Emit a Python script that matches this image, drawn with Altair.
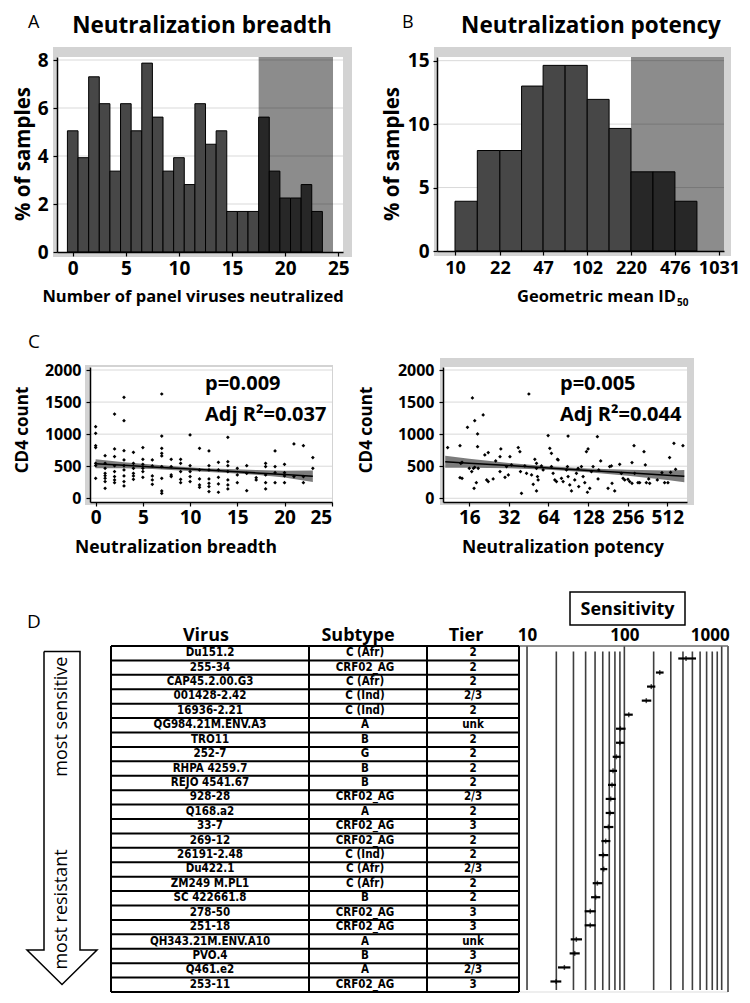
import altair as alt
import pandas as pd

FONT = "Open Sans"
TFONT = "DejaVu Sans Condensed, Liberation Sans Narrow, Liberation Sans, sans-serif"
FRAME = "#d3d3d3"
GRID = "#d9d9d9"
BAR = "#474747"

# ---------------- Panel A: neutralization breadth ----------------
a_count = list(range(24))
a_pct = [5.05, 3.93, 7.30, 6.18, 3.37, 6.18, 5.05, 7.87, 5.62, 3.37, 3.93, 2.81,
         6.18, 4.49, 5.05, 1.69, 1.69, 1.69, 5.62, 3.37, 2.25, 2.25, 2.81, 1.69]
a_xticks = [0, 5, 10, 15, 20, 25]
a_yticks = [0, 2, 4, 6, 8]
a_shade = [17.5, 24.5]

# ---------------- Panel B: neutralization potency ----------------
b_bin_lo = [10, 14.8, 22, 32.2, 47, 69.2, 102, 149.8, 220, 323.6, 476]
b_bin_hi = [14.8, 22, 32.2, 47, 69.2, 102, 149.8, 220, 323.6, 476, 700.5]
b_pct = [3.92, 7.92, 7.92, 13.0, 14.63, 14.63, 11.95, 9.66, 6.24, 6.24, 3.92]
b_xticks = [10, 22, 47, 102, 220, 476, 1031]
b_yticks = [0, 5, 10, 15]
b_shade_lo = 220

# ---------------- Panel C (left): CD4 vs breadth ----------------
c1_cd4_by_breadth = {
    0: [1117, 1013, 821, 790, 545, 510, 312],
    1: [665, 545, 467, 390, 353, 312, 260, 156],
    2: [1314, 769, 650, 509, 416, 338, 286, 244],
    3: [1574, 1210, 743, 597, 509, 442, 348, 260, 192],
    4: [717, 545, 467, 390, 348, 296],
    5: [790, 608, 530, 467, 416, 327],
    6: [597, 504, 348, 286, 218],
    7: [1626, 971, 779, 701, 660, 494, 312, 114, 78],
    8: [608, 494, 364, 338],
    9: [608, 545, 416, 296, 244],
    10: [987, 509, 416, 338, 260],
    11: [779, 442, 301, 208, 171],
    12: [738, 509, 442, 301, 234, 182, 104],
    13: [561, 442, 327, 223, 94],
    14: [951, 571, 509, 416, 286, 208, 145],
    15: [467, 364, 244],
    16: [509, 390, 119],
    17: [322, 286],
    18: [545, 494, 364, 244, 145],
    19: [738, 494, 400, 244],
    20: [530, 400, 348, 244],
    21: [847, 338],
    22: [821, 338, 244],
    23: [634, 467],
}
c1_fit_x = [0, 3, 6, 9, 11.5, 14, 17, 20, 23]
c1_fit = [540, 515, 489, 464, 443, 421, 396, 370, 345]
c1_lo = [470, 470, 455, 435, 415, 395, 365, 325, 255]
c1_hi = [610, 560, 525, 490, 470, 455, 440, 430, 435]

# ---------------- Panel C (right): CD4 vs potency ----------------
c2_potency = [10.96, 13.6, 13.8, 14.1, 13.6, 14.1, 15.5, 16.9, 17.6, 18.5, 18.5, 16.0, 16.7, 17.2,
              17.6, 18.7, 17.4, 18.1, 20.4, 21.0, 22.3, 21.7, 22.3, 24.3, 25.4, 27.8, 27.4, 27.4,
              29.9, 30.7, 32.6, 33.5, 31.7, 37.7, 38.8, 39.2, 39.9, 42.3, 43.6, 45.4, 47.6, 49.0,
              50.4, 51.9, 51.9, 51.9, 52.8, 53.4, 56.6, 58.3, 63.6, 65.5, 67.4, 67.4, 69.4, 71.5,
              73.6, 74.9, 75.8, 80.3, 82.7, 90.2, 87.7, 89.2, 90.2, 92.9, 95.7, 101.4, 104.4, 107.5,
              108.7, 113.9, 117.3, 120.8, 124.3, 128.0, 126.5, 131.8, 135.7, 139.7, 150.6, 152.4,
              154.2, 159.6, 181.5, 186.9, 192.4, 194.7, 203.9, 222.6, 229.2, 236.0, 242.9, 257.4,
              265.0, 276.1, 286.0, 276.1, 289.2, 306.6, 315.7, 340.6, 348.7, 354.8, 369.6, 376.3,
              429.9, 466.5, 488.7, 517.9, 533.2, 542.6, 575.2, 592.2, 673.3]
c2_cd4 = [790, 821, 545, 561, 322, 312, 1107, 1564, 1210, 1003, 805, 468, 416, 468,
          483, 468, 156, 244, 1299, 675, 712, 286, 260, 301, 582, 769, 649, 416,
          327, 494, 649, 520, 364, 790, 727, 416, 78, 504, 390, 1626, 364, 218,
          608, 545, 468, 114, 338, 286, 504, 442, 977, 779, 701, 494, 390, 286,
          260, 608, 597, 312, 260, 971, 442, 494, 338, 208, 114, 286, 390, 468,
          182, 494, 338, 244, 727, 769, 94, 156, 416, 494, 961, 301,
          442, 582, 156, 494, 504, 234, 114, 530, 390, 312, 286, 296,
          260, 234, 821, 556, 390, 244, 244, 727, 520, 244, 301, 234,
          286, 400, 244, 244, 634, 405, 857, 452, 821]
c2_fit_x = [10.5, 16, 32, 64, 128, 256, 512, 690]
c2_fit = [570, 547, 510, 472, 435, 398, 360, 345]
c2_lo = [475, 477, 470, 444, 405, 353, 285, 250]
c2_hi = [665, 617, 550, 500, 465, 443, 435, 440]
c_yticks = [0, 500, 1000, 1500, 2000]

# ---------------- Panel D: virus panel ----------------
viruses = ["Du151.2", "255-34", "CAP45.2.00.G3", "001428-2.42", "16936-2.21", "QG984.21M.ENV.A3",
           "TRO11", "252-7", "RHPA 4259.7", "REJO 4541.67", "928-28", "Q168.a2", "33-7", "269-12",
           "26191-2.48", "Du422.1", "ZM249 M.PL1", "SC 422661.8", "278-50", "251-18",
           "QH343.21M.ENV.A10", "PVO.4", "Q461.e2", "253-11"]
subtypes = ["C (Afr)", "CRF02_AG", "C (Afr)", "C (Ind)", "C (Ind)", "A", "B", "G", "B", "B",
            "CRF02_AG", "A", "CRF02_AG", "CRF02_AG", "C (Ind)", "C (Afr)", "C (Afr)", "B",
            "CRF02_AG", "CRF02_AG", "A", "B", "A", "CRF02_AG"]
tiers = ["2", "2", "2", "2/3", "2", "unk", "2", "2", "2", "2", "2/3", "2", "3", "2", "2", "2/3",
         "2", "2", "3", "3", "unk", "3", "2/3", "3"]
sens_mid = [430, 231, 189, 168, 111, 91, 90, 82.8, 76.5, 74.7, 72.4, 71.4, 68.5, 64.3, 60.9, 61.4,
            52.8, 50.7, 44.6, 44.6, 32.1, 30.9, 24.2, 19.9]
sens_lo = [358, 211, 171, 151, 100, 82, 82, 75.9, 70.1, 67.9, 64.3, 64.3, 61.4, 58.1, 54.5, 56.6,
           47.3, 45.5, 39.1, 39.1, 28.1, 27.4, 20.8, 17.4]
sens_hi = [545, 253, 208, 189, 122, 103, 100, 91.6, 84.1, 82, 81.4, 78.8, 77.1, 71.8, 68.5, 66.8,
           59.4, 56.6, 50.7, 50.7, 36.7, 34.8, 27.9, 22.5]
sens_grid_minor = [20, 30, 40, 50, 60, 70, 80, 90, 200, 300, 400, 500, 600, 700, 800, 900]
sens_grid_decade = [10, 100, 1000]


# ---------------- helpers ----------------
def txt(s, x, y, size, weight="bold", align="center", angle=0, baseline="alphabetic", font=FONT):
    return alt.Chart(pd.DataFrame({"t": [s]})).mark_text(
        font=font, fontSize=size, fontWeight=weight, align=align, baseline=baseline,
        angle=angle, color="black"
    ).encode(x=alt.value(x), y=alt.value(y), text="t:N")


def rect(x1, x2, y1, y2, fill, stroke=None, sw=1.0, opacity=1.0):
    kw = {"fill": fill, "opacity": opacity}
    if stroke:
        kw["stroke"] = stroke
        kw["strokeWidth"] = sw
    return alt.Chart(pd.DataFrame({"k": [0]})).mark_rect(**kw).encode(
        x=alt.value(x1), x2=alt.value(x2), y=alt.value(y1), y2=alt.value(y2))


def spacer():
    return rect(0, 1, 0, 1, "white").properties(width=1, height=1)


def axis(values, size, pad, orient=None, fmt="d"):
    kw = dict(values=values, grid=False, title=None, labelFont=FONT, labelFontSize=size,
              labelFontWeight="bold", labelColor="black", domainColor="black", domainWidth=1.5,
              tickColor="black", tickSize=4, tickWidth=1.2, labelPadding=pad, zindex=1,
              format=fmt)
    if orient:
        kw["orient"] = orient
    return alt.Axis(**kw)


# ---------------- Panel A ----------------
WA, HA = 286, 195
xA = alt.Scale(domain=[-1.48, 25.44], nice=False, zero=False)
yA = alt.Scale(domain=[0, 8.125], nice=False, zero=False)
axXA = axis(a_xticks, 19, 3)
axYA = axis(a_yticks, 19, 5)
dfA = pd.DataFrame({"n": a_count, "pct": a_pct})

A = alt.layer(
    rect(-48, 318, -49, 255, "white"),
    rect(-4, 295, -10, 200, FRAME),
    rect(0, WA, 0, HA, "white"),
    alt.Chart(pd.DataFrame({"g": a_yticks[1:]})).mark_rule(color=GRID, strokeWidth=1).encode(
        y=alt.Y("g:Q", scale=yA, axis=axYA)),
    alt.Chart(dfA).transform_calculate(lo="datum.n - 0.5", hi="datum.n + 0.5", base="0").mark_rect(
        fill=BAR, stroke="black", strokeWidth=1).encode(
        x=alt.X("lo:Q", scale=xA, axis=axXA), x2="hi:Q",
        y=alt.Y("pct:Q", scale=yA, axis=axYA), y2="base:Q"),
    alt.Chart(pd.DataFrame({"lo": [a_shade[0]], "hi": [a_shade[1]], "bot": [0], "top": [8.125]})).mark_rect(
        fill="black", opacity=0.45).encode(
        x=alt.X("lo:Q", scale=xA, axis=axXA), x2="hi:Q",
        y=alt.Y("bot:Q", scale=yA, axis=axYA), y2="top:Q"),
    txt("A", -29, -29, 18, weight="normal", align="left"),
    txt("Neutralization breadth", 145, -24, 22.5),
    txt("% of samples", -33, 97, 20.5, angle=270, baseline="middle"),
    txt("Number of panel viruses neutralized", 136, 245, 16.5),
).properties(width=WA, height=HA)

# ---------------- Panel B ----------------
WB, HB = 287, 194
xB = alt.Scale(type="log", domain=[7.29, 1127], nice=False)
yB = alt.Scale(domain=[0, 15.29], nice=False, zero=False)
axXB = axis(b_xticks, 18, 4)
axYB = axis(b_yticks, 19, 4)
dfB = pd.DataFrame({"lo": b_bin_lo, "hi": b_bin_hi, "pct": b_pct})

B = alt.layer(
    rect(-62, 303, -49, 255, "white"),
    rect(-3, 294, -10, 199, FRAME),
    rect(0, WB, 0, HB, "white"),
    alt.Chart(pd.DataFrame({"g": b_yticks[1:]})).mark_rule(color=GRID, strokeWidth=1).encode(
        y=alt.Y("g:Q", scale=yB, axis=axYB)),
    alt.Chart(dfB).transform_calculate(base="0").mark_rect(
        fill=BAR, stroke="black", strokeWidth=1).encode(
        x=alt.X("lo:Q", scale=xB, axis=axXB), x2="hi:Q",
        y=alt.Y("pct:Q", scale=yB, axis=axYB), y2="base:Q"),
    alt.Chart(pd.DataFrame({"lo": [b_shade_lo], "hi": [1127], "bot": [0], "top": [15.29]})).mark_rect(
        fill="black", opacity=0.45).encode(
        x=alt.X("lo:Q", scale=xB, axis=axXB), x2="hi:Q",
        y=alt.Y("bot:Q", scale=yB, axis=axYB), y2="top:Q"),
    txt("B", -35, -29, 18, weight="normal", align="left"),
    txt("Neutralization potency", 154, -24, 22.5),
    txt("% of samples", -44, 97, 20.5, angle=270, baseline="middle"),
    txt("Geometric mean ID", 239, 245, 16.5, align="right"),
    txt("50", 240, 249, 10, align="left"),
).properties(width=WB, height=HB)

# ---------------- Panel C ----------------
HC = 135
yC = alt.Scale(domain=[-58, 2047], nice=False, zero=False)
axYC = axis(c_yticks, 16, 5)

c1_x, c1_y = [], []
for k, vals in c1_cd4_by_breadth.items():
    for v in vals:
        c1_x.append(k)
        c1_y.append(v)
dfC1 = pd.DataFrame({"b": c1_x, "cd4": c1_y})
dfC1fit = pd.DataFrame({"b": c1_fit_x, "fit": c1_fit, "lo": c1_lo, "hi": c1_hi})

WC1 = 242
xC1 = alt.Scale(domain=[-0.6, 25.03], nice=False, zero=False)
axXC1 = axis([0, 5, 10, 15, 20, 25], 19, 2)

C1 = alt.layer(
    rect(-81, 266, -55, 203, "white"),
    rect(-5, 243, -2, 138, FRAME),
    rect(0, WC1, 0, HC, "white"),
    alt.Chart(pd.DataFrame({"g": c_yticks})).mark_rule(color=GRID, strokeWidth=1).encode(
        y=alt.Y("g:Q", scale=yC, axis=axYC)),
    alt.Chart(dfC1fit).mark_area(color="#6e6e6e", opacity=0.9).encode(
        x=alt.X("b:Q", scale=xC1, axis=axXC1), y=alt.Y("lo:Q", scale=yC, axis=axYC), y2="hi:Q"),
    alt.Chart(dfC1fit).mark_line(color="black", strokeWidth=1.5).encode(
        x=alt.X("b:Q", scale=xC1, axis=axXC1), y=alt.Y("fit:Q", scale=yC, axis=axYC)),
    alt.Chart(dfC1).mark_point(shape="diamond", filled=True, size=14, color="black", opacity=1).encode(
        x=alt.X("b:Q", scale=xC1, axis=axXC1), y=alt.Y("cd4:Q", scale=yC, axis=axYC)),
    txt("C", -62, -19, 19, weight="normal", align="left"),
    txt("CD4 count", -67, 63, 17, angle=270, baseline="middle"),
    txt("Neutralization breadth", 86, 186, 17.5),
    txt("p=0.009", 115, 23, 20, align="left"),
    txt("Adj R\u00b2=0.037", 115, 54, 20, align="left"),
).properties(width=WC1, height=HC)

WC2 = 244
xC2 = alt.Scale(type="log", domain=[10.1, 723], nice=False)
axXC2 = axis([16, 32, 64, 128, 256, 512], 19, 2)
dfC2 = pd.DataFrame({"p": c2_potency, "cd4": c2_cd4})
dfC2fit = pd.DataFrame({"p": c2_fit_x, "fit": c2_fit, "lo": c2_lo, "hi": c2_hi})

C2 = alt.layer(
    rect(-87, 297, -55, 203, "white"),
    rect(-3, 251, -9, 138, FRAME),
    rect(0, WC2, 0, HC, "white"),
    alt.Chart(pd.DataFrame({"g": c_yticks})).mark_rule(color=GRID, strokeWidth=1).encode(
        y=alt.Y("g:Q", scale=yC, axis=axYC)),
    alt.Chart(dfC2fit).mark_area(color="#6e6e6e", opacity=0.9).encode(
        x=alt.X("p:Q", scale=xC2, axis=axXC2), y=alt.Y("lo:Q", scale=yC, axis=axYC), y2="hi:Q"),
    alt.Chart(dfC2fit).mark_line(color="black", strokeWidth=1.5).encode(
        x=alt.X("p:Q", scale=xC2, axis=axXC2), y=alt.Y("fit:Q", scale=yC, axis=axYC)),
    alt.Chart(dfC2).mark_point(shape="diamond", filled=True, size=14, color="black", opacity=1).encode(
        x=alt.X("p:Q", scale=xC2, axis=axXC2), y=alt.Y("cd4:Q", scale=yC, axis=axYC)),
    txt("CD4 count", -76, 63, 17, angle=270, baseline="middle"),
    txt("Neutralization potency", 120, 186, 17.5),
    txt("p=0.005", 117, 23, 20, align="left"),
    txt("Adj R\u00b2=0.044", 117, 54, 20, align="left"),
).properties(width=WC2, height=HC)

# ---------------- Panel D ----------------
WD, HD = 720, 346
nrow = len(viruses)
tX = alt.Scale(domain=[0, WD], nice=False, zero=False)
tY = alt.Scale(domain=[0, nrow], reverse=True, nice=False, zero=False)
sX = alt.Scale(type="log", domain=[6.18e-5, 1542], nice=False)
sY = alt.Scale(domain=[-0.890, 23.749], reverse=True, nice=False, zero=False)
axTop = alt.Axis(orient="top", values=sens_grid_decade, format="d", ticks=False, tickSize=0,
                 domain=False, grid=False, title=None, labelFont=FONT, labelFontSize=17,
                 labelFontWeight="bold", labelColor="black", labelPadding=2, zindex=1,
                 labelOffset=alt.condition("datum.value == 1000", alt.value(-12), alt.value(0)))

dfT = pd.DataFrame({"i": list(range(nrow)), "virus": viruses, "sub": subtypes, "tier": tiers})
dfS = pd.DataFrame({"i": list(range(nrow)), "lo": sens_lo, "mid": sens_mid, "hi": sens_hi})
col_edges = [91, 289, 407, 499]
arrow = pd.DataFrame({"o": list(range(8)),
                      "ax": [24, 60, 60, 77, 42, 7, 24, 24],
                      "ay": [0.39, 0.39, 21.09, 21.09, 23.48, 21.09, 21.09, 0.39]})


def table_text(field, xc):
    return alt.Chart(dfT).transform_calculate(rc="datum.i + 0.5").mark_text(
        font=TFONT, fontSize=11.5, fontWeight="bold", baseline="middle", align="center", color="black"
    ).encode(x=alt.value(xc), y=alt.Y("rc:Q", scale=tY, axis=None), text=f"{field}:N")


D = alt.layer(
    rect(-11, 720, -76, 347, "white"),
    # sensitivity grid and frame
    alt.Chart(pd.DataFrame({"g": sens_grid_minor})).mark_rule(color="#3f3f3f", strokeWidth=1.6).encode(
        x=alt.X("g:Q", scale=sX, axis=None), y=alt.value(5.6), y2=alt.value(HD - 2)),
    alt.Chart(pd.DataFrame({"g": sens_grid_decade})).mark_rule(color="#3f3f3f", strokeWidth=1.6).encode(
        x=alt.X("g:Q", scale=sX, axis=None), y=alt.value(0), y2=alt.value(HD - 2)),
    rect(499, 708, -0.8, 0.8, "#6a6a6a"),
    rect(499, 708, HD - 0.5, HD + 0.5, "#dddddd"),
    rect(707, 709, 0, HD, "#6a6a6a"),
    alt.Chart(dfS).mark_rule(color="black", strokeWidth=2.2).encode(
        x=alt.X("lo:Q", scale=sX, axis=axTop), x2="hi:Q", y=alt.Y("i:Q", scale=sY, axis=None)),
    alt.Chart(dfS).mark_tick(orient="vertical", size=5, thickness=1.5, color="black").encode(
        x=alt.X("mid:Q", scale=sX, axis=None), y=alt.Y("i:Q", scale=sY, axis=None)),
    # table
    alt.Chart(pd.DataFrame({"r": list(range(nrow + 1))})).mark_rule(color="black", strokeWidth=2).encode(
        x=alt.value(91), x2=alt.value(499), y=alt.Y("r:Q", scale=tY, axis=None)),
    alt.Chart(pd.DataFrame({"c": col_edges})).mark_rule(color="black", strokeWidth=2).encode(
        x=alt.X("c:Q", scale=tX, axis=None), y=alt.value(0), y2=alt.value(HD)),
    table_text("virus", 190),
    table_text("sub", 345),
    table_text("tier", 453),
    txt("Virus", 186, -5, 18),
    txt("Subtype", 338, -5, 18),
    txt("Tier", 446, -5, 18),
    txt("D", 7, -18, 19, weight="normal", align="left"),
    rect(550, 665, -54, -21, "white", stroke="black", sw=1.5),
    txt("Sensitivity", 607.5, -31, 18),
    # arrow
    alt.Chart(arrow).mark_line(color="black", strokeWidth=1.5, strokeJoin="miter").encode(
        x=alt.X("ax:Q", scale=tX, axis=None), y=alt.Y("ay:Q", scale=tY, axis=None), order="o:Q"),
    txt("most sensitive", 42, 70.6, 18, weight="normal", angle=270, baseline="middle"),
    txt("most resistant", 42, 263.5, 18, weight="normal", angle=270, baseline="middle"),
).resolve_scale(x="independent", y="independent").properties(width=WD, height=HD)

row1 = alt.hconcat(spacer(), A, B, spacing=0)
row2 = alt.hconcat(spacer(), C1, C2, spacing=0)
row3 = alt.hconcat(spacer(), D, spacing=0)
chart = alt.vconcat(row1, row2, row3, spacing=0).properties(
    padding=0).configure_view(strokeWidth=0)

chart.save("out.html", embed_options={"renderer": "svg", "actions": False})
